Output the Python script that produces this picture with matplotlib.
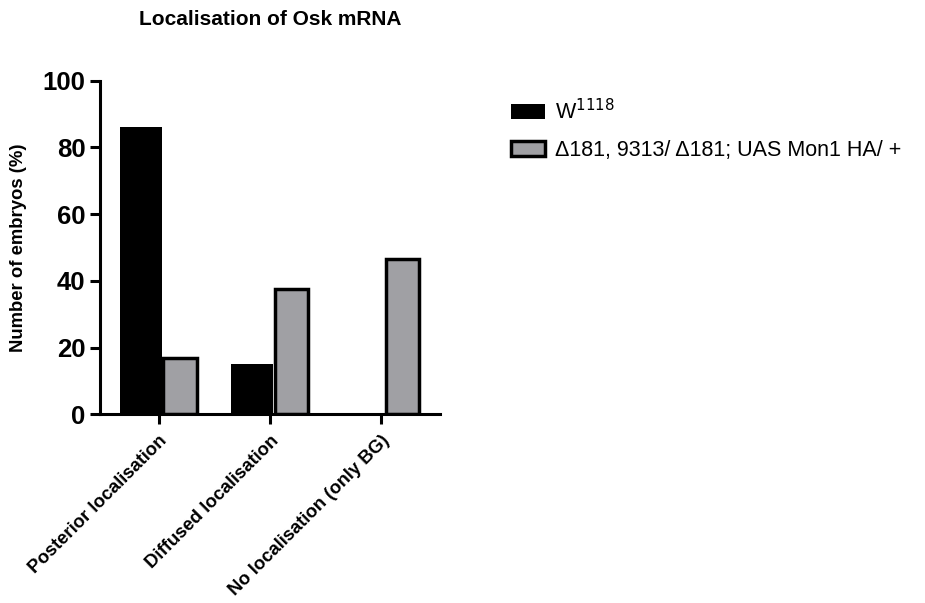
import matplotlib
matplotlib.use('Agg')
import matplotlib.pyplot as plt
import numpy as np

plt.rcParams['font.family'] = ['Liberation Sans', 'DejaVu Sans']

categories = ['Posterior localisation', 'Diffused localisation', 'No localisation (only BG)']
w1118 = [86, 15, 0]
mutant = [17, 37.5, 46.5]
labels = ['W$^{1118}$', '\u0394181, 9313/ \u0394181; UAS Mon1 HA/ +']

fig = plt.figure(figsize=(9.25, 6.03), dpi=100)
ax = fig.add_axes([0.108, 0.313, 0.368, 0.553])

x = np.arange(len(categories))
bw_black = 0.377
bw_grey = 0.30
ax.bar(x - 0.35, w1118, bw_black, align='edge', color='black', edgecolor='none',
       linewidth=0, label=labels[0])
ax.bar(x + 0.19, mutant, bw_grey, color='#a0a0a4', edgecolor='black', linewidth=2.5,
       label=labels[1])

ax.set_xlim(-0.53, 2.53)
ax.set_ylim(0, 100)
ax.set_yticks([0, 20, 40, 60, 80, 100])
ax.set_xticks(x)
ax.set_xticklabels(categories, rotation=45, ha='right', rotation_mode='anchor',
                   fontsize=13.3, fontweight='bold')
for t in ax.get_yticklabels():
    t.set_fontsize(18.5)
    t.set_fontweight('bold')

for s in ['top', 'right']:
    ax.spines[s].set_visible(False)
for s in ['left', 'bottom']:
    ax.spines[s].set_linewidth(2.2)
ax.tick_params(axis='both', width=2.2, length=7, direction='out')
ax.tick_params(axis='x', pad=6)

ax.set_ylabel('Number of embryos (%)', fontsize=13.3, fontweight='bold', labelpad=11)
ax.set_title('Localisation of Osk mRNA', fontsize=15, fontweight='bold', pad=40)

fig.legend(loc='upper left', bbox_to_anchor=(0.531, 0.868), frameon=False,
           fontsize=15.5, handlelength=1.6, handleheight=0.7, labelspacing=0.75,
           handletextpad=0.45)

plt.savefig('out.png', dpi=100)
